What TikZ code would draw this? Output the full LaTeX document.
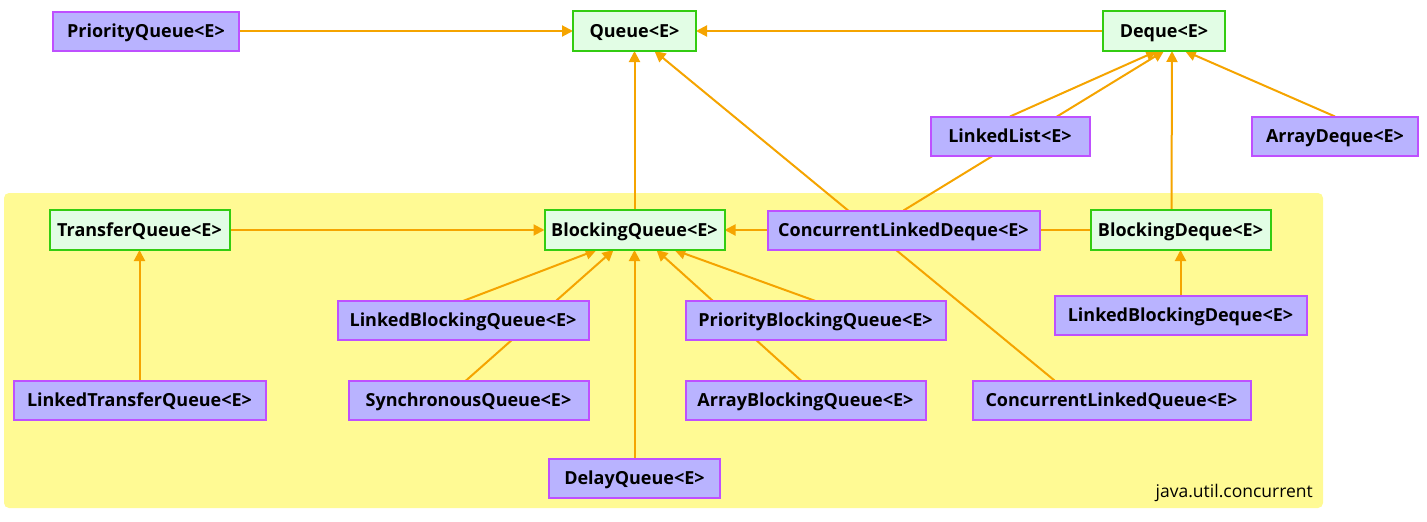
\documentclass[tikz,border=0pt]{standalone}
\usepackage{fontspec}
\setmainfont{Open Sans}
\usepackage{tikz}
\usetikzlibrary{arrows.meta,positioning,backgrounds}
\definecolor{ifacefill}{RGB}{226,253,229}
\definecolor{ifacedraw}{RGB}{51,204,17}
\definecolor{implfill}{RGB}{185,179,255}
\definecolor{impldraw}{RGB}{190,80,255}
\definecolor{edgec}{RGB}{245,164,0}
\definecolor{pkgbg}{RGB}{255,250,148}

\begin{document}
\begin{tikzpicture}[
    x=1pt, y=-1pt,
    iface/.style={rectangle, draw=ifacedraw, fill=ifacefill, line width=2pt, outer sep=0pt, minimum height=40pt, inner sep=0pt, text height=16.8pt, text depth=4pt, font=\bfseries\fontsize{18}{21}\selectfont},
    impl/.style={rectangle, draw=impldraw, fill=implfill, line width=2pt, outer sep=0pt, minimum height=39pt, inner sep=0pt, text height=16.8pt, text depth=4pt, font=\bfseries\fontsize{18}{21}\selectfont},
    arrow/.style={-{Triangle[length=11pt, width=11pt]}, line width=2pt, draw=edgec},
    pkglabel/.style={font=\fontsize{17.5}{20}\selectfont, inner sep=0pt}
]
\useasboundingbox (0,0) rectangle (1427,522);

% java.util
\node[iface, minimum width=123pt] (queue) at (634.5,31) {Queue<E>};
\node[impl, minimum width=186pt, left=334pt of queue] (pq) {PriorityQueue<E>};
\node[iface, minimum width=122pt, right=407pt of queue] (deque) {Deque<E>};
\node[impl, minimum width=159pt] (llist) at (1010,136) {LinkedList<E>};
\node[impl, minimum width=166pt] (adeque) at (1335,136) {ArrayDeque<E>};

% java.util.concurrent
\node[iface, minimum width=180pt, below=159pt of queue] (bq) {BlockingQueue<E>};
\node[iface, minimum width=180pt, left=315pt of bq] (tq) {TransferQueue<E>};
\node[impl, minimum width=252pt, below=131pt of tq] (ltq) {LinkedTransferQueue<E>};
\node[impl, minimum width=272pt, right=43pt of bq] (cld) {ConcurrentLinkedDeque<E>};
\node[iface, minimum width=180pt, right=51pt of cld] (bd) {BlockingDeque<E>};
\node[impl, minimum width=252pt, below=46pt of bd] (lbd) {LinkedBlockingDeque<E>};
\node[impl, minimum width=251pt, below=51pt of bq, xshift=-171.5pt] (lbq) {LinkedBlockingQueue<E>};
\node[impl, minimum width=240pt, below=41pt of lbq, xshift=5.5pt] (sq) {SynchronousQueue<E>};
\node[impl, minimum width=260pt, below=51pt of bq, xshift=181pt] (pbq) {PriorityBlockingQueue<E>};
\node[impl, minimum width=240pt, below=41pt of pbq, xshift=-10pt] (abq) {ArrayBlockingQueue<E>};
\node[impl, minimum width=171pt, below=209pt of bq] (dq) {DelayQueue<E>};
\node[impl, minimum width=278pt, below=131pt of cld, xshift=208pt] (clq) {ConcurrentLinkedQueue<E>};
\node[pkglabel, anchor=east] (pkgname) at (1313,493) {java.util.concurrent};

\begin{scope}[on background layer]
% package area
\fill[pkgbg, rounded corners=5pt] (4,193) rectangle (1323,508);

% Arrows
\draw[arrow] (pq) -- (queue);
\draw[arrow] (deque) -- (queue);
\draw[arrow] (bq) -- (queue);
\draw[arrow] ([xshift=-57pt]clq.north) -- ([xshift=20pt]queue.south);
\draw[arrow] (llist.north) -- ([xshift=-7pt]deque.south);
\draw[arrow] (cld.north) -- (deque.south);
\draw[arrow] ([xshift=-9pt]bd.north) -- ([xshift=8pt]deque.south);
\draw[arrow] (adeque.north) -- ([xshift=21pt]deque.south);
\draw[arrow] (tq) -- (bq);
\draw[arrow] (bd) -- (bq);
\draw[arrow] (ltq) -- (tq);
\draw[arrow] (lbq.north) -- ([xshift=-38pt]bq.south);
\draw[arrow] ([xshift=-3pt]sq.north) -- ([xshift=-21pt]bq.south);
\draw[arrow] (dq) -- (bq);
\draw[arrow] (pbq.north) -- ([xshift=40pt]bq.south);
\draw[arrow] ([xshift=-4pt]abq.north) -- ([xshift=22pt]bq.south);
\draw[arrow] (lbd) -- (bd);
\end{scope}
\end{tikzpicture}
\end{document}
